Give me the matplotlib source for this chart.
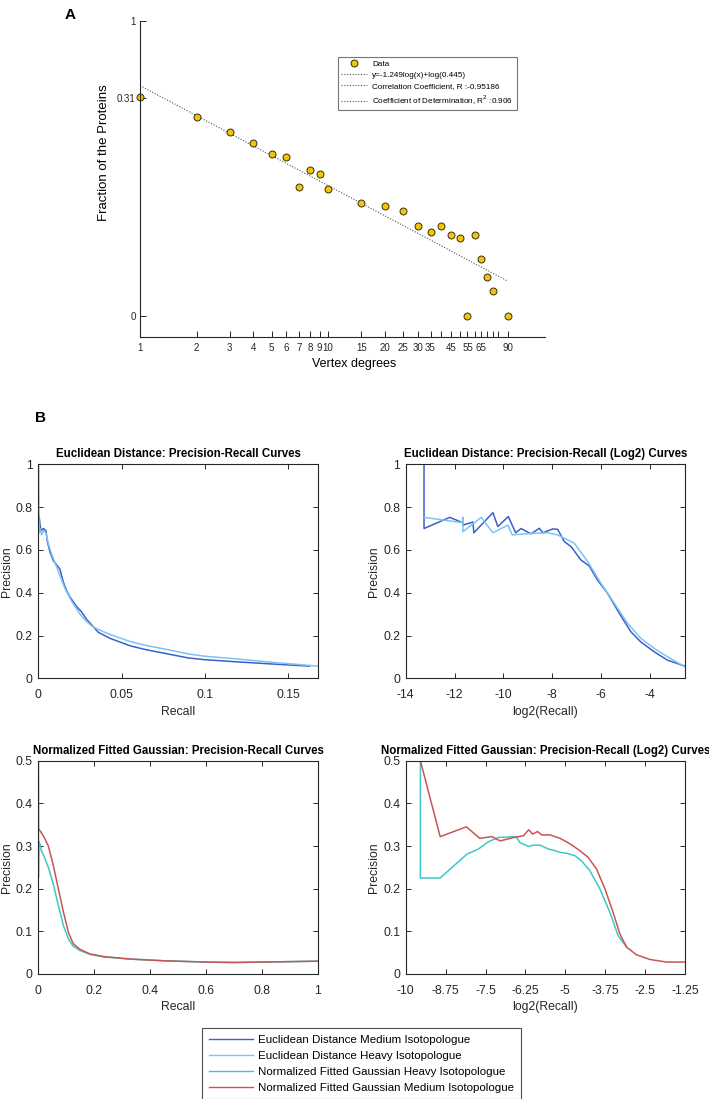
import numpy as np
import matplotlib
matplotlib.use("Agg")
import matplotlib.pyplot as plt
from matplotlib.lines import Line2D

plt.rcParams['font.family'] = ['Liberation Sans', 'DejaVu Sans']
plt.rcParams['axes.edgecolor'] = '#262626'
plt.rcParams['xtick.color'] = '#262626'
plt.rcParams['ytick.color'] = '#262626'

# ---------------- Panel A data ----------------
degrees = [1, 2, 3, 4, 5, 6, 7, 8, 9, 10, 15, 20, 25, 30, 35, 40, 45, 50, 55, 60, 65, 70, 75, 90]
fraction = [0.318, 0.179, 0.118, 0.0843, 0.0621, 0.0564, 0.0238, 0.0395, 0.0352, 0.0229,
            0.0153, 0.0141, 0.0122, 0.00794, 0.00668, 0.00794, 0.00607, 0.00551, 0.0,
            0.00607, 0.00301, 0.00181, 0.0012, 0.0]
fit_slope = -1.249
fit_intercept = 0.445
fit_r = -0.95186
fit_r2 = 0.906
a_xtick_vals = [1, 2, 3, 4, 5, 6, 7, 8, 9, 10, 15, 20, 25, 30, 35, 40, 45, 50, 55, 60, 65, 70, 75, 80, 90]
a_xtick_labels = ['1', '2', '3', '4', '5', '6', '7', '8', '9', '10', '15', '20', '25', '30', '35',
                  '', '45', '', '55', '', '65', '', '', '', '90']

# ---------------- Panel B data ----------------
# Euclidean distance, linear recall
ed_lin_recall_med = [0.0001, 0.0001, 0.0006, 0.001, 0.0016, 0.003, 0.0046, 0.0054, 0.007, 0.009,
                     0.011, 0.013, 0.015, 0.017, 0.019, 0.023, 0.026, 0.029, 0.032, 0.036, 0.043,
                     0.055, 0.065, 0.077, 0.09, 0.1, 0.117, 0.14, 0.1627]
ed_lin_prec_med = [1.0, 0.77, 0.75, 0.72, 0.69, 0.70, 0.69, 0.64, 0.59, 0.55,
                   0.53, 0.51, 0.45, 0.41, 0.38, 0.335, 0.31, 0.275, 0.25, 0.215, 0.187,
                   0.152, 0.133, 0.115, 0.095, 0.087, 0.078, 0.067, 0.057]
ed_lin_recall_hvy = [0.0, 0.0002, 0.0005, 0.001, 0.002, 0.003, 0.0046, 0.006, 0.008, 0.010,
                     0.013, 0.016, 0.020, 0.025, 0.029, 0.032, 0.036, 0.043, 0.055, 0.065,
                     0.077, 0.09, 0.1, 0.117, 0.14, 0.1677]
ed_lin_prec_hvy = [1.0, 0.80, 0.68, 0.70, 0.67, 0.69, 0.68, 0.63, 0.58, 0.54,
                   0.48, 0.42, 0.36, 0.30, 0.265, 0.245, 0.228, 0.205, 0.172, 0.153,
                   0.135, 0.114, 0.103, 0.092, 0.075, 0.057]

# Euclidean distance, log2 recall
ed_log_x_med = [-13.25, -13.25, -12.2, -11.66, -11.66, -11.25, -11.21, -10.43, -10.23, -9.8, -9.5,
                -9.28, -8.87, -8.53, -8.39, -7.98, -7.78, -7.51, -7.23, -6.83, -6.49, -6.15,
                -5.74, -5.26, -4.79, -4.38, -3.83, -3.29, -2.58]
ed_log_prec_med = [1.0, 0.70, 0.752, 0.727, 0.716, 0.73, 0.68, 0.774, 0.709, 0.756, 0.68,
                   0.70, 0.675, 0.701, 0.68, 0.698, 0.696, 0.639, 0.615, 0.553, 0.525, 0.459,
                   0.397, 0.304, 0.218, 0.17, 0.124, 0.085, 0.057]
ed_log_x_hvy = [-13.25, -11.66, -11.66, -11.66, -10.91, -10.43, -9.82, -9.64, -8.87, -8.19, -7.78,
                -7.10, -6.55, -6.01, -5.46, -4.92, -4.38, -3.83, -3.29, -2.58]
ed_log_prec_hvy = [0.752, 0.727, 0.752, 0.685, 0.752, 0.68, 0.716, 0.67, 0.677, 0.68, 0.67,
                   0.631, 0.545, 0.444, 0.35, 0.257, 0.187, 0.14, 0.101, 0.054]

# Normalized fitted Gaussian, linear recall
ng_lin_recall_med = [0.0, 0.0005, 0.006, 0.018, 0.036, 0.054, 0.072, 0.09, 0.108, 0.125, 0.149,
                     0.185, 0.233, 0.328, 0.45, 0.6, 0.7, 0.8, 0.9, 1.0]
ng_lin_prec_med = [0.5, 0.34, 0.336, 0.324, 0.30, 0.254, 0.199, 0.145, 0.097, 0.071, 0.058,
                   0.047, 0.041, 0.035, 0.031, 0.028, 0.027, 0.028, 0.029, 0.030]
ng_lin_recall_hvy = [0.0005, 0.0005, 0.0021, 0.0037, 0.0066, 0.0105, 0.0137, 0.018, 0.024, 0.036,
                     0.054, 0.072, 0.09, 0.108, 0.125, 0.149, 0.185, 0.233, 0.328, 0.45, 0.6,
                     0.7, 0.8, 0.9, 1.0]
ng_lin_prec_hvy = [0.5, 0.225, 0.31, 0.30, 0.305, 0.29, 0.285, 0.28, 0.27, 0.25,
                   0.21, 0.16, 0.113, 0.082, 0.065, 0.055, 0.046, 0.040, 0.035, 0.031, 0.028,
                   0.027, 0.028, 0.029, 0.030]

# Normalized fitted Gaussian, log2 recall
ng_log_x_med = [-9.54, -8.92, -8.10, -7.68, -7.30, -7.04, -6.62, -6.31, -6.15, -6.02, -5.87, -5.74,
                -5.48, -5.16, -4.85, -4.54, -4.28, -4.02, -3.76, -3.5, -3.29, -3.08, -2.77,
                -2.35, -1.83, -1.25]
ng_log_prec_med = [0.5, 0.322, 0.345, 0.318, 0.322, 0.312, 0.32, 0.324, 0.338, 0.328, 0.334, 0.326,
                   0.326, 0.318, 0.305, 0.289, 0.273, 0.246, 0.2, 0.144, 0.094, 0.063, 0.045,
                   0.034, 0.028, 0.028]
ng_log_x_hvy = [-9.54, -9.54, -8.92, -8.08, -7.72, -7.41, -7.10, -6.54, -6.42, -6.15, -6.0, -5.79,
                -5.53, -5.32, -5.16, -4.96, -4.69, -4.49, -4.23, -3.92, -3.60, -3.34, -3.08]
ng_log_prec_hvy = [0.5, 0.225, 0.225, 0.281, 0.293, 0.31, 0.32, 0.322, 0.308, 0.299, 0.302, 0.302,
                   0.293, 0.289, 0.285, 0.283, 0.277, 0.265, 0.242, 0.2, 0.144, 0.089, 0.063]

legend_labels = ['Euclidean Distance Medium Isotopologue',
                 'Euclidean Distance Heavy Isotopologue',
                 'Normalized Fitted Gaussian Heavy Isotopologue',
                 'Normalized Fitted Gaussian Medium Isotopologue']
c_ed_med = '#3a5fcd'
c_ed_hvy = '#7cc4f0'
c_ng_hvy = '#3cc8c8'
c_ng_med = '#c85555'

W, H = 709, 1099
fig = plt.figure(figsize=(W / 100, H / 100), dpi=100)


def rect(l, t, r, b):
    return [l / W, 1 - b / H, (r - l) / W, (b - t) / H]


# ---------------- Panel A ----------------
zero_level = -3.226
axA = fig.add_axes(rect(140, 21, 545, 337))
logfrac = [np.log10(f) if f > 0 else zero_level for f in fraction]
xfit = np.array([degrees[0], degrees[-1]], dtype=float)
yfit = fit_slope * np.log10(xfit) + np.log10(fit_intercept)
axA.plot(xfit, yfit, linestyle=(0, (1, 1.5)), color='#555555', lw=0.8)
axA.plot(degrees, logfrac, 'o', ms=5.0, mfc='#f2c40c', mec='#3a3000', mew=0.7, clip_on=False)
axA.set_xscale('log')
axA.set_xlim(1, 142)
axA.set_ylim(-3.49, 0.455)
axA.set_xticks(a_xtick_vals)
axA.set_xticklabels(a_xtick_labels)
axA.xaxis.set_minor_locator(matplotlib.ticker.NullLocator())
axA.set_yticks([zero_level, np.log10(0.31), 0.455])
axA.set_yticklabels(['0', '0.31', '1'])
axA.tick_params(direction='in', length=4, width=0.7, labelsize=7, pad=3)
axA.tick_params(axis='x', pad=4.5)
axA.spines['top'].set_visible(False)
axA.spines['right'].set_visible(False)
for s in ['left', 'bottom']:
    axA.spines[s].set_linewidth(0.8)
axA.set_xlabel('Vertex degrees', fontsize=9)
axA.xaxis.set_label_coords(0.528, -0.066)
axA.set_ylabel('Fraction of the Proteins', fontsize=9.5)
axA.yaxis.set_label_coords(-0.074, 0.582)

handlesA = [
    Line2D([], [], marker='o', ls='none', ms=5.0, mfc='#f2c40c', mec='#3a3000', mew=0.7),
    Line2D([], [], ls=(0, (1, 1.5)), color='#555555', lw=0.8),
    Line2D([], [], ls=(0, (1, 1.5)), color='#555555', lw=0.8),
    Line2D([], [], ls=(0, (1, 1.5)), color='#555555', lw=0.8),
]
labelsA = ['Data',
           'y=%.3flog(x)+log(%.3f)' % (fit_slope, fit_intercept),
           'Correlation Coefficient, R :%.5f' % fit_r,
           'Coefficient of Determination, R$^2$ :%.3f' % fit_r2]
legA = fig.legend(handlesA, labelsA, loc='upper left', bbox_to_anchor=(338 / W, 1 - 57 / H),
                  fontsize=5.9, frameon=True, fancybox=False, edgecolor='#555555',
                  handlelength=3.1, handletextpad=0.7, borderpad=0.4, labelspacing=0.4,
                  borderaxespad=0)
legA.get_frame().set_linewidth(0.8)

fig.text(70 / W, 1 - 15 / H, 'A', fontsize=11, fontweight='bold', ha='center', va='center')
fig.text(41 / W, 1 - 418 / H, 'B', fontsize=11, fontweight='bold', ha='center', va='center')


# ---------------- Panel B ----------------
def style(ax, title, xlabel):
    ax.set_title(title, fontsize=8.3, fontweight='bold', pad=5)
    ax.set_xlabel(xlabel, fontsize=8.8, color='#262626', labelpad=3)
    ax.set_ylabel('Precision', fontsize=8.8, color='#262626', labelpad=2)
    ax.tick_params(direction='in', length=3.5, width=0.7, labelsize=8.8, top=True, right=True)
    ax.tick_params(axis='x', pad=8)
    ax.tick_params(axis='y', pad=4)
    for s in ax.spines.values():
        s.set_linewidth(0.8)


lw = 1.1
ax1 = fig.add_axes(rect(38.3, 464.3, 317.7, 678.3))
ax1.plot(ed_lin_recall_med, ed_lin_prec_med, color=c_ed_med, lw=lw)
ax1.plot(ed_lin_recall_hvy, ed_lin_prec_hvy, color=c_ed_hvy, lw=lw)
ax1.set_xlim(0, 0.1677)
ax1.set_ylim(0, 1)
ax1.set_xticks([0, 0.05, 0.1, 0.15])
ax1.set_xticklabels(['0', '0.05', '0.1', '0.15'])
ax1.set_yticks([0, 0.2, 0.4, 0.6, 0.8, 1])
ax1.set_yticklabels(['0', '0.2', '0.4', '0.6', '0.8', '1'])
style(ax1, 'Euclidean Distance: Precision-Recall Curves', 'Recall')

ax2 = fig.add_axes(rect(405.7, 464.3, 685, 678.3))
ax2.plot(ed_log_x_med, ed_log_prec_med, color=c_ed_med, lw=lw)
ax2.plot(ed_log_x_hvy, ed_log_prec_hvy, color=c_ed_hvy, lw=lw)
ax2.set_xlim(-14, -2.57)
ax2.set_ylim(0, 1)
ax2.set_xticks([-14, -12, -10, -8, -6, -4])
ax2.set_xticklabels(['-14', '-12', '-10', '-8', '-6', '-4'])
ax2.set_yticks([0, 0.2, 0.4, 0.6, 0.8, 1])
ax2.set_yticklabels(['0', '0.2', '0.4', '0.6', '0.8', '1'])
style(ax2, 'Euclidean Distance: Precision-Recall (Log2) Curves', 'log2(Recall)')

ax3 = fig.add_axes(rect(38.3, 760.7, 317.7, 974))
ax3.plot(ng_lin_recall_hvy, ng_lin_prec_hvy, color=c_ng_hvy, lw=lw)
ax3.plot(ng_lin_recall_med, ng_lin_prec_med, color=c_ng_med, lw=lw)
ax3.set_xlim(0, 1)
ax3.set_ylim(0, 0.5)
ax3.set_xticks([0, 0.2, 0.4, 0.6, 0.8, 1])
ax3.set_xticklabels(['0', '0.2', '0.4', '0.6', '0.8', '1'])
ax3.set_yticks([0, 0.1, 0.2, 0.3, 0.4, 0.5])
ax3.set_yticklabels(['0', '0.1', '0.2', '0.3', '0.4', '0.5'])
style(ax3, 'Normalized Fitted Gaussian: Precision-Recall Curves', 'Recall')

ax4 = fig.add_axes(rect(405.7, 760.7, 685, 974))
ax4.plot(ng_log_x_hvy, ng_log_prec_hvy, color=c_ng_hvy, lw=lw)
ax4.plot(ng_log_x_med, ng_log_prec_med, color=c_ng_med, lw=lw)
ax4.set_xlim(-10, -1.25)
ax4.set_ylim(0, 0.5)
ax4.set_xticks([-10, -8.75, -7.5, -6.25, -5, -3.75, -2.5, -1.25])
ax4.set_xticklabels(['-10', '-8.75', '-7.5', '-6.25', '-5', '-3.75', '-2.5', '-1.25'])
ax4.set_yticks([0, 0.1, 0.2, 0.3, 0.4, 0.5])
ax4.set_yticklabels(['0', '0.1', '0.2', '0.3', '0.4', '0.5'])
style(ax4, 'Normalized Fitted Gaussian: Precision-Recall (Log2) Curves', 'log2(Recall)')

handlesB = [Line2D([], [], color=c, lw=1.0) for c in [c_ed_med, c_ed_hvy, c_ng_hvy, c_ng_med]]
legB = fig.legend(handlesB, legend_labels, loc='upper left',
                  bbox_to_anchor=(201.7 / W, 1 - 1027.7 / H), fontsize=8.25, frameon=True,
                  fancybox=False, edgecolor='#262626', handlelength=3.9, handletextpad=0.45,
                  borderpad=0.6, labelspacing=0.52, borderaxespad=0)
legB.get_frame().set_linewidth(0.8)

fig.savefig('out.png', dpi=100)
